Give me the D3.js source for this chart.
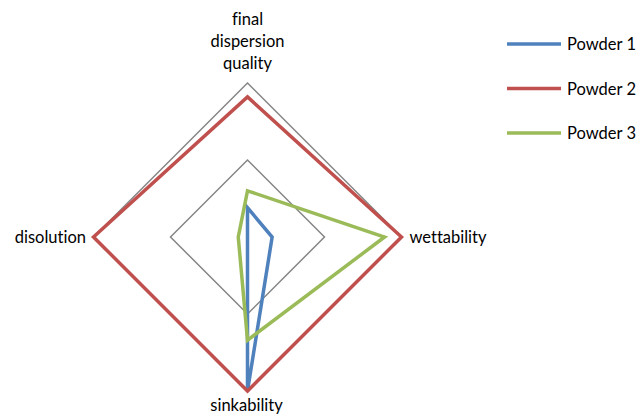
<!DOCTYPE html>
<html>
<head>
<meta charset="utf-8">
<script src="https://cdn.jsdelivr.net/npm/d3@7"></script>
<style>
  html, body { margin: 0; padding: 0; background: #fff; }
  svg text { font-family: Lato, "Open Sans", sans-serif; fill: #000; font-variant-ligatures: none; }
</style>
</head>
<body>
<svg id="chart" width="639" height="416"></svg>
<script>
// Radar axes, clockwise from the top
const axes = [["final", "dispersion", "quality"], ["wettability"], ["sinkability"], ["disolution"]];
const seriesNames = ["Powder 1", "Powder 2", "Powder 3"];
const powder1 = [1.9, 1.6, 10, 0];
const powder2 = [9.1, 10, 10, 10];
const powder3 = [3.0, 8.9, 6.7, 0.6];
const gridLevels = [5, 10];
const colors = ["#4F81BD", "#C0504D", "#9BBB59"];

const series = [powder1, powder2, powder3];
const svg = d3.select("#chart");
const cx = 247.5, cy = 237, R = 154;

const r = d3.scaleLinear().domain([0, 10]).range([0, R]);
const angle = d3.scalePoint().domain(d3.range(axes.length + 1)).range([0, 2 * Math.PI]);

const g = svg.append("g").attr("transform", `translate(${cx},${cy})`);

const radial = d3.lineRadial()
  .angle((d, i) => angle(i))
  .radius(d => r(d))
  .curve(d3.curveLinearClosed);

// gridline rings
g.selectAll("path.grid")
  .data(gridLevels)
  .join("path")
  .attr("class", "grid")
  .attr("d", v => radial(axes.map(() => v)))
  .attr("fill", "none")
  .attr("stroke", "#868686")
  .attr("stroke-width", 1.5);

// series outlines
g.selectAll("path.series")
  .data(series)
  .join("path")
  .attr("class", "series")
  .attr("d", d => radial(d))
  .attr("fill", "none")
  .attr("stroke", (d, i) => colors[i])
  .attr("stroke-width", 3.5)
  .attr("stroke-linejoin", "miter");

// category labels around the outer ring
const fontSize = 16.5;
const lineH = 22;
axes.forEach((lines, i) => {
  const a = angle(i);
  const px = Math.sin(a) * R, py = -Math.cos(a) * R;
  const t = g.append("text").attr("font-size", fontSize);
  if (i === 0) {
    t.attr("text-anchor", "middle");
    lines.forEach((s, k) => {
      t.append("tspan").attr("x", px).attr("y", py - 14 - (lines.length - 1 - k) * lineH).text(s);
    });
  } else if (i === 1) {
    t.attr("x", px + 8).attr("y", py + 6).text(lines[0]);
  } else if (i === 2) {
    t.attr("text-anchor", "middle").attr("x", px - 1).attr("y", py + 20).text(lines[0]);
  } else {
    t.attr("text-anchor", "end").attr("x", px - 7.5).attr("y", py + 6).text(lines[0]);
  }
});

// legend
const legend = svg.append("g").attr("transform", "translate(507,44)");
const ly = d3.scalePoint().domain(seriesNames).range([0, 89]);
const item = legend.selectAll("g").data(seriesNames).join("g")
  .attr("transform", d => `translate(0,${ly(d)})`);
item.append("line")
  .attr("x1", 0).attr("x2", 54)
  .attr("stroke", (d, i) => colors[i])
  .attr("stroke-width", 3.5);
item.append("text")
  .attr("x", 60).attr("y", 6)
  .attr("font-size", fontSize)
  .text(d => d);
</script>
</body>
</html>
